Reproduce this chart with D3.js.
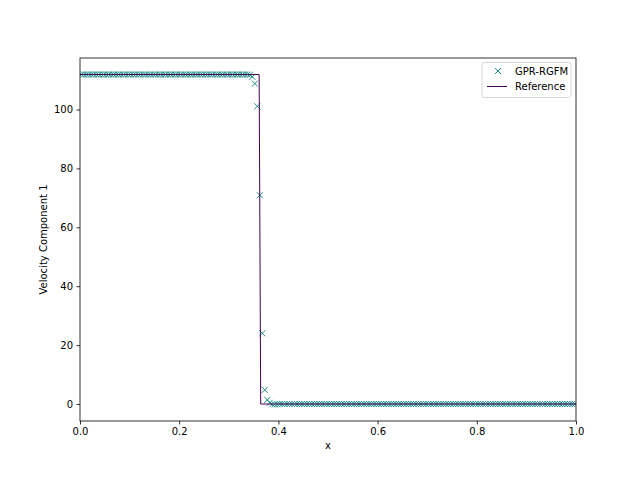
<!DOCTYPE html>
<html>
<head>
<meta charset="utf-8">
<script src="https://cdn.jsdelivr.net/npm/d3@7"></script>
<style>
  body { margin: 0; background: #fff; }
  svg { display: block; font-family: "DejaVu Sans", sans-serif; }
</style>
</head>
<body>
<div id="chart"></div>
<script>
// GPR-RGFM solution, one value per cell (200 cells on [0, 1])
var nCells = 200;
var gprY = [
  111.9, 111.9, 111.9, 111.9, 111.9, 111.9, 111.9, 111.9, 111.9, 111.9,
  111.9, 111.9, 111.9, 111.9, 111.9, 111.9, 111.9, 111.9, 111.9, 111.9,
  111.9, 111.9, 111.9, 111.9, 111.9, 111.9, 111.9, 111.9, 111.9, 111.9,
  111.9, 111.9, 111.9, 111.9, 111.9, 111.9, 111.9, 111.9, 111.9, 111.9,
  111.9, 111.9, 111.9, 111.9, 111.9, 111.9, 111.9, 111.9, 111.9, 111.9,
  111.9, 111.9, 111.9, 111.9, 111.9, 111.9, 111.9, 111.9, 111.9, 111.9,
  111.9, 111.9, 111.9, 111.9, 111.9, 111.9, 111.9, 111.9, 111.8, 111.1,
  108.8, 101.1, 70.9, 24.0, 4.8, 1.4, 0.4, -0.1, -0.17, -0.1,
  0, 0, 0, 0, 0, 0, 0, 0, 0, 0,
  0, 0, 0, 0, 0, 0, 0, 0, 0, 0,
  0, 0, 0, 0, 0, 0, 0, 0, 0, 0,
  0, 0, 0, 0, 0, 0, 0, 0, 0, 0,
  0, 0, 0, 0, 0, 0, 0, 0, 0, 0,
  0, 0, 0, 0, 0, 0, 0, 0, 0, 0,
  0, 0, 0, 0, 0, 0, 0, 0, 0, 0,
  0, 0, 0, 0, 0, 0, 0, 0, 0, 0,
  0, 0, 0, 0, 0, 0, 0, 0, 0, 0,
  0, 0, 0, 0, 0, 0, 0, 0, 0, 0,
  0, 0, 0, 0, 0, 0, 0, 0, 0, 0,
  0, 0, 0, 0, 0, 0, 0, 0, 0, 0
];

// Reference (exact) solution, sharp shock
var refX = [0, 0.3612, 0.3643, 1];
var refY = [111.9, 111.9, 0, 0];

var xTicks = [0, 0.2, 0.4, 0.6, 0.8, 1.0];
var yTicks = [0, 20, 40, 60, 80, 100];
var seriesNames = ["GPR-RGFM", "Reference"];

// cell centres
var gprX = gprY.map(function(d, i) { return (i + 0.5) / nCells; });

var width = 640, height = 480;
var margin = {left: 80, right: 64, top: 58, bottom: 59};
var plotW = width - margin.left - margin.right;
var plotH = height - margin.top - margin.bottom;

var gprColor = "#21918c";
var refColor = "#440154";

var svg = d3.select("#chart").append("svg")
  .attr("width", width)
  .attr("height", height);

var xScale = d3.scaleLinear().domain([0, 1]).range([0, plotW]);
var yScale = d3.scaleLinear().domain([-5.77, 117.5]).range([plotH, 0]);

var g = svg.append("g")
  .attr("transform", "translate(" + margin.left + "," + margin.top + ")");

g.append("clipPath").attr("id", "clip")
  .append("rect").attr("width", plotW).attr("height", plotH);

var plot = g.append("g").attr("clip-path", "url(#clip)");

// GPR markers
var cross = "M-3,-3L3,3M-3,3L3,-3";
plot.selectAll(".gpr")
  .data(gprX)
  .enter().append("path")
  .attr("class", "gpr")
  .attr("transform", function(d, i) {
    return "translate(" + xScale(d) + "," + yScale(gprY[i]) + ")";
  })
  .attr("d", cross)
  .attr("fill", "none")
  .attr("stroke", gprColor)
  .attr("stroke-width", 1);

// reference line
var line = d3.line()
  .x(function(d) { return xScale(d); })
  .y(function(d, i) { return yScale(refY[i]); });

plot.append("path")
  .datum(refX)
  .attr("d", line)
  .attr("fill", "none")
  .attr("stroke", refColor)
  .attr("stroke-width", 1);

// axes
var xAxis = g.append("g")
  .attr("transform", "translate(0," + plotH + ")")
  .call(d3.axisBottom(xScale).tickValues(xTicks).tickFormat(d3.format(".1f"))
    .tickSize(3.5).tickPadding(3.5));

var yAxis = g.append("g")
  .call(d3.axisLeft(yScale).tickValues(yTicks).tickFormat(d3.format("d"))
    .tickSize(3.5).tickPadding(3.5));

[xAxis, yAxis].forEach(function(a) {
  a.select(".domain").remove();
  a.selectAll("line").attr("stroke", "#000").attr("stroke-width", 0.8);
  a.selectAll("text")
    .attr("fill", "#000")
    .style("font-size", "10px")
    .style("font-family", "'DejaVu Sans', sans-serif");
});

g.append("rect")
  .attr("width", plotW)
  .attr("height", plotH)
  .attr("fill", "none")
  .attr("stroke", "#000")
  .attr("stroke-width", 0.8);

// axis labels
svg.append("text")
  .attr("x", margin.left + plotW / 2)
  .attr("y", 449)
  .attr("text-anchor", "middle")
  .style("font-size", "10px")
  .text("x");

svg.append("text")
  .attr("transform", "translate(47," + (margin.top + plotH / 2) + ") rotate(-90)")
  .attr("text-anchor", "middle")
  .style("font-size", "10px")
  .text("Velocity Component 1");

// legend
var legend = g.append("g")
  .attr("transform", "translate(" + (plotW - 94) + ",4.5)");

legend.append("rect")
  .attr("width", 89)
  .attr("height", 35)
  .attr("rx", 2.5)
  .attr("fill", "#fff")
  .attr("fill-opacity", 0.8)
  .attr("stroke", "#cccccc")
  .attr("stroke-width", 0.8);

legend.append("path")
  .attr("transform", "translate(16,8.5)")
  .attr("d", cross)
  .attr("fill", "none")
  .attr("stroke", gprColor)
  .attr("stroke-width", 1);

legend.append("line")
  .attr("x1", 5).attr("x2", 25)
  .attr("y1", 24).attr("y2", 24)
  .attr("stroke", refColor)
  .attr("stroke-width", 1);

legend.selectAll(".legtext")
  .data(seriesNames)
  .enter().append("text")
  .attr("class", "legtext")
  .attr("x", 33)
  .attr("y", function(d, i) { return 8.5 + i * 15.5; })
  .attr("dy", "0.35em")
  .style("font-size", "10px")
  .text(function(d) { return d; });
</script>
</body>
</html>
